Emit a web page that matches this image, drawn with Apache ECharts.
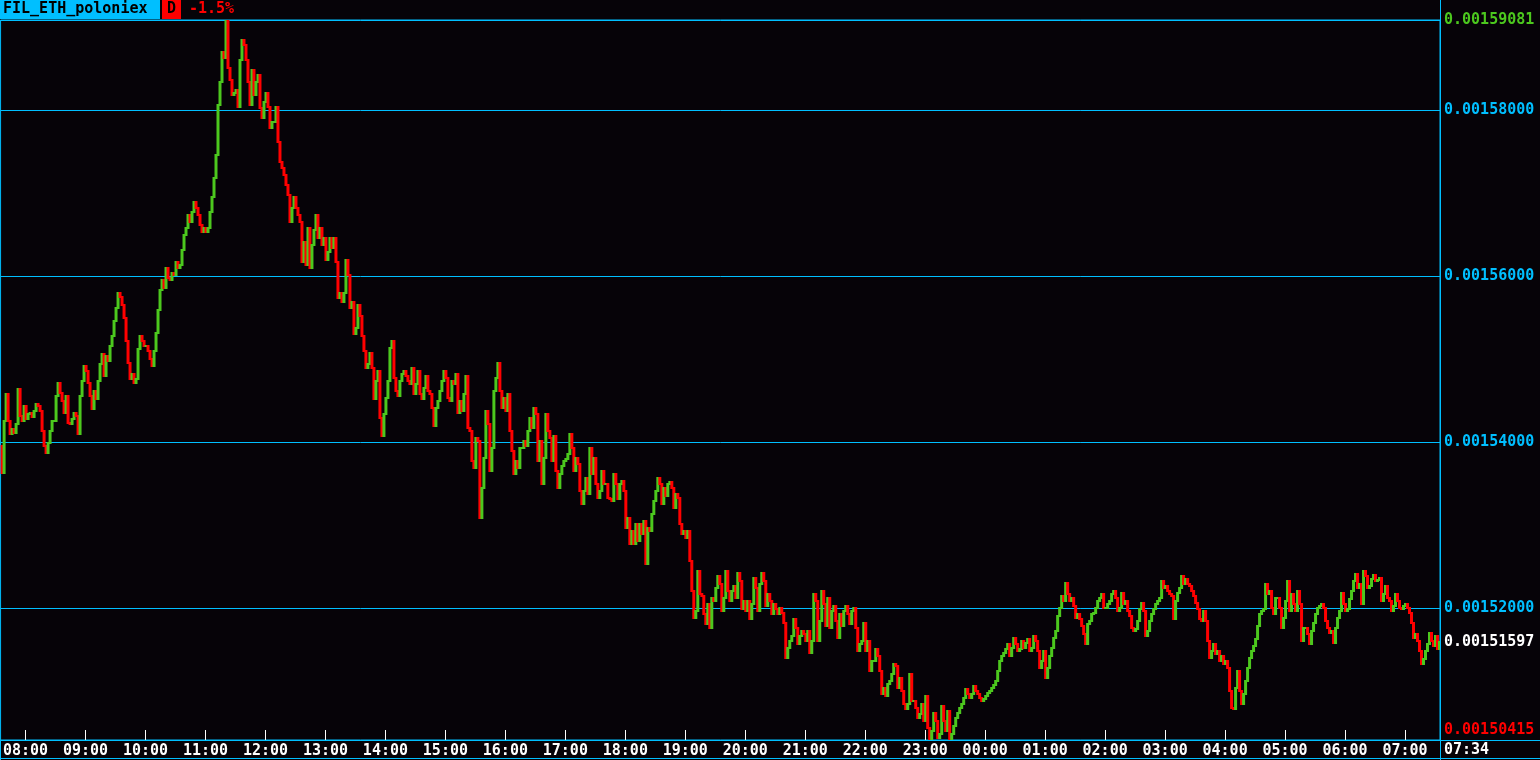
<!DOCTYPE html>
<html>
<head>
<meta charset="utf-8">
<script src="https://cdn.jsdelivr.net/npm/echarts@6/dist/echarts.min.js"></script>
<style>
html,body{margin:0;padding:0;background:#060308;}
#chart{width:1540px;height:760px;}
</style>
</head>
<body>
<div id="chart"></div>
<script>
// ---- data (prices in units of 1e-8 ETH), 2-minute bars, bar centers from 07:36 to 07:34 ----
const symbolName = 'FIL_ETH_poloniex';
const periodName = 'D';
const changeText = '-1.5%';
const startTime = '07:36';
const stepMinutes = 2;
const firstOpenE8 = 153958;
const closesE8 = [
153632,154259,154584,154259,154102,154163,154114,154223,154645,154319,
154259,154440,154283,154343,154355,154307,154380,154464,154440,154380,
154139,153958,153873,153994,154139,154259,154259,154560,154717,154596,
154500,154355,154560,154235,154223,154283,154355,154319,154102,154560,
154741,154922,154862,154717,154560,154404,154620,154524,154741,154946,
155066,154801,155042,154982,155163,155283,155464,155609,155801,155741,
155645,155500,155223,154958,154765,154825,154717,154765,155127,155283,
155223,155163,155163,155103,155006,154922,155103,155319,155585,155826,
155946,155850,156091,155970,155946,156030,156006,156163,156091,156127,
156308,156488,156573,156729,156645,156765,156886,156814,156729,156609,
156524,156573,156524,156573,156765,156946,157175,157452,158055,158332,
158693,158621,159081,158501,158356,158175,158199,158236,158031,158597,
158838,158778,158597,158332,158055,158477,158175,158332,158416,158019,
157898,158091,158199,158031,157778,157850,157850,158031,157609,157368,
157296,157211,157091,156970,156645,156814,156946,156814,156729,156645,
156163,156404,156127,156573,156091,156368,156549,156729,156452,156573,
156368,156452,156187,156283,156452,156332,156452,156163,155729,155801,
155681,155801,156187,156006,155609,155681,155307,155368,155645,155524,
155283,155103,154898,154946,155078,154898,154524,154741,154862,154295,
154078,154343,154536,154741,155139,155223,154777,154620,154560,154741,
154825,154862,154801,154741,154705,154898,154584,154705,154862,154584,
154524,154657,154801,154620,154584,154416,154199,154416,154500,154620,
154741,154862,154777,154536,154500,154741,154705,154825,154355,154500,
154380,154584,154801,154175,154139,153777,153693,154054,154018,153090,
153452,153813,154380,154223,153657,153934,154620,154777,154958,154620,
154416,154536,154380,154584,154139,153898,153620,153777,153693,153934,
153934,154018,153958,154139,154295,154175,154416,154343,153777,154018,
153500,153813,154343,154139,154054,153777,154078,153657,153452,153620,
153717,153777,153801,153861,154102,153934,153657,153813,153741,153416,
153259,153416,153572,153380,153934,153620,153813,153500,153331,153416,
153657,153500,153500,153331,153319,153295,153620,153500,153319,153500,
153536,153416,152970,153090,152777,152934,152777,153018,152813,153018,
152897,153054,152536,152970,152934,153139,153295,153416,153572,153500,
153259,153452,153355,153500,153524,153452,153211,153380,153331,153018,
152897,152934,152849,152934,152572,152211,151885,151970,152452,152175,
152150,151933,151813,152054,151765,152126,152090,152247,152391,152296,
151970,152126,152452,152211,152090,152211,152271,152126,152427,152331,
151994,152090,151970,152090,151873,152054,152367,152247,151970,152296,
152427,152331,152030,152175,152090,151933,152054,151994,151933,152006,
151945,151825,151403,151524,151608,151668,151873,151765,151572,151668,
151729,151692,151608,151729,151463,151608,152175,152090,151608,151849,
152211,152054,151789,152126,151765,151970,152030,151849,151644,151933,
151789,151970,152030,151933,151813,151970,152006,151765,151488,151572,
151608,151825,151488,151608,151247,151367,151367,151512,151427,151247,
150969,151041,150945,151090,151126,151210,151331,151307,151041,151162,
151005,150849,150789,150849,151210,150885,150885,150801,150680,150728,
150849,150644,150945,150560,150415,150524,150740,150644,150439,150487,
150825,150644,150524,150765,150427,150487,150584,150680,150740,150801,
150849,150921,151030,150969,150921,150969,151066,151005,150969,150921,
150885,150909,150945,150981,151005,151041,151078,151126,151247,151367,
151427,151463,151512,151572,151427,151524,151644,151572,151488,151512,
151608,151524,151584,151632,151488,151524,151668,151608,151488,151283,
151367,151488,151162,151283,151427,151524,151644,151729,151909,152006,
152150,152090,152307,152175,152090,152126,152030,151885,151933,151873,
151789,151692,151572,151813,151849,151933,151945,152006,152090,152126,
152175,152006,152006,152054,152090,152175,152211,152126,151970,152006,
152187,152054,152090,151970,151909,151765,151729,151753,151849,151994,
152066,151970,151668,151729,151849,151933,151994,152054,152090,152126,
152331,152247,152271,152211,152175,152150,151873,152090,152187,152247,
152391,152296,152355,152296,152271,152211,152150,152066,151994,151873,
151849,151970,151849,151608,151403,151488,151572,151451,151488,151367,
151427,151331,151367,151283,151005,150801,150789,151041,151247,151005,
150849,150969,151126,151283,151403,151488,151548,151632,151789,151933,
151970,151994,152296,152175,152211,152006,151933,152126,152126,152006,
151765,151885,152090,152331,151970,152175,152054,151970,152211,152054,
151608,151765,151765,151692,151572,151729,151825,151933,152006,152030,
152054,152006,151849,151765,151705,151729,151584,151765,151885,151970,
152187,152054,151970,151994,152114,152211,152331,152415,152247,152296,
152054,152452,152391,152247,152271,152355,152403,152331,152343,152367,
152090,152175,152271,152126,152090,151970,152030,152175,152090,152006,
151994,152030,152054,152006,151945,151825,151644,151692,151608,151488,
151331,151391,151488,151572,151705,151608,151548,151668,151512,151597
];
// axis extremes and reference values (1e-8 units)
const maxE8 = 159081;
const minE8 = 150415;
const lastE8 = 151597;
const gridLevelsE8 = [152000, 154000, 156000, 158000];

// colours
const C_BG = '#060308', C_CYAN = '#00bfff', C_UP = '#4cc81e', C_DOWN = '#ff0000', C_TXT = '#ffffff';
const FONT = '"DejaVu Sans Mono", "Liberation Mono", monospace';
const FW = 'bold';

// ---- build categories and step data ----
function timeLabels(start, step, n) {
  const [h, m] = start.split(':').map(Number);
  const out = [];
  for (let i = 0; i < n; i++) {
    const t = (h * 60 + m + i * step) % 1440;
    out.push(String(Math.floor(t / 60)).padStart(2, '0') + ':' + String(t % 60).padStart(2, '0'));
  }
  return out;
}
const categories = timeLabels(startTime, stepMinutes, closesE8.length);
const barData = closesE8.map((c, i) => {
  const o = i === 0 ? firstOpenE8 : closesE8[i - 1];
  return [i, o / 1e8, c / 1e8];
});
const hourFilter = (idx, val) => typeof val === 'string' && val.endsWith(':00');

const chart = echarts.init(document.getElementById('chart'), null, {renderer: 'canvas'});
chart.setOption({
  backgroundColor: C_BG,
  animation: false,
  title: {
    left: 0, top: 0, padding: 0,
    text: '{a|' + symbolName + '}{g|}{b|' + periodName + '}{c|' + changeText + '}',
    textStyle: {
      rich: {
        a: {backgroundColor: C_CYAN, color: '#000', fontFamily: FONT, fontWeight: FW, fontSize: 15, width: 157, height: 19, lineHeight: 19, padding: [0, 0, 0, 3]},
        g: {width: 2, height: 19},
        b: {backgroundColor: C_DOWN, color: '#000', fontFamily: FONT, fontWeight: FW, fontSize: 15, width: 19, height: 19, lineHeight: 19, align: 'center'},
        c: {color: C_DOWN, fontFamily: FONT, fontWeight: FW, fontSize: 15, height: 19, lineHeight: 19, padding: [0, 0, 0, 8]}
      }
    }
  },
  grid: {left: 0, right: 100, top: 20, bottom: 20, show: true, borderColor: C_CYAN, borderWidth: 1, backgroundColor: 'transparent'},
  xAxis: {
    type: 'category',
    data: categories,
    boundaryGap: true,
    axisLine: {show: true, lineStyle: {color: C_CYAN, width: 1}},
    axisTick: {show: true, inside: true, length: 10, alignWithLabel: true, interval: hourFilter, lineStyle: {color: C_TXT, width: 1}},
    axisLabel: {interval: hourFilter, color: C_TXT, fontFamily: FONT, fontWeight: FW, fontSize: 15, margin: 4},
    splitLine: {show: false}
  },
  yAxis: {
    type: 'value',
    position: 'right',
    min: minE8 / 1e8,
    max: maxE8 / 1e8,
    splitNumber: 4,
    axisLine: {show: false},
    axisTick: {show: false},
    splitLine: {show: true, lineStyle: {color: C_CYAN, width: 1}},
    axisLabel: {
      customValues: [minE8, lastE8].concat(gridLevelsE8, [maxE8]).map(v => v / 1e8),
      showMinLabel: true, showMaxLabel: true,
      margin: 4,
      fontFamily: FONT, fontWeight: FW, fontSize: 15,
      formatter: function (v) {
        const e = Math.round(v * 1e8);
        const s = (e / 1e8).toFixed(8);
        if (e === maxE8) return '{mx|' + s + '}';
        if (e === minE8) return '{mn|' + s + '}';
        if (e === lastE8) return '{cur|' + s + '}';
        return '{g|' + s + '}';
      },
      rich: {
        mx: {color: C_UP, fontFamily: FONT, fontWeight: FW, fontSize: 15},
        mn: {color: C_DOWN, fontFamily: FONT, fontWeight: FW, fontSize: 15, padding: [0, 0, 20, 0]},
        cur: {color: C_TXT, fontFamily: FONT, fontWeight: FW, fontSize: 15},
        g: {color: C_CYAN, fontFamily: FONT, fontWeight: FW, fontSize: 15}
      }
    }
  },
  graphic: [
    {type: 'line', shape: {x1: 1440.5, y1: 0, x2: 1440.5, y2: 760}, style: {stroke: C_CYAN, lineWidth: 1}, z: 100},
    {type: 'line', shape: {x1: 1440, y1: 740.5, x2: 1540, y2: 740.5}, style: {stroke: C_CYAN, lineWidth: 1}, z: 100},
    {type: 'line', shape: {x1: 0, y1: 758.5, x2: 1540, y2: 758.5}, style: {stroke: C_CYAN, lineWidth: 1}, z: 100},
    {type: 'line', shape: {x1: 0.5, y1: 740, x2: 0.5, y2: 760}, style: {stroke: C_CYAN, lineWidth: 1}, z: 100},
    {type: 'text', x: 1444, y: 750, style: {text: categories[categories.length - 1], fill: C_TXT, font: 'bold 15px ' + FONT, textVerticalAlign: 'middle', verticalAlign: 'middle'}, z: 100}
  ],
  series: [{
    type: 'custom',
    clip: true,
    encode: {x: 0, y: [1, 2]},
    data: barData,
    renderItem: function (params, api) {
      const i = api.value(0), o = api.value(1), c = api.value(2);
      const p0 = api.coord([i, o]);
      const p1 = api.coord([i, c]);
      const w = api.size([1, 0])[0];
      const top = Math.round(Math.min(p0[1], p1[1])) - 1;
      const bot = Math.round(Math.max(p0[1], p1[1])) + 1;
      return {
        type: 'rect',
        shape: {x: p0[0] - w / 2, y: top, width: w + 1, height: bot - top},
        style: {fill: c >= o ? C_UP : C_DOWN}
      };
    }
  }]
});
</script>
</body>
</html>
